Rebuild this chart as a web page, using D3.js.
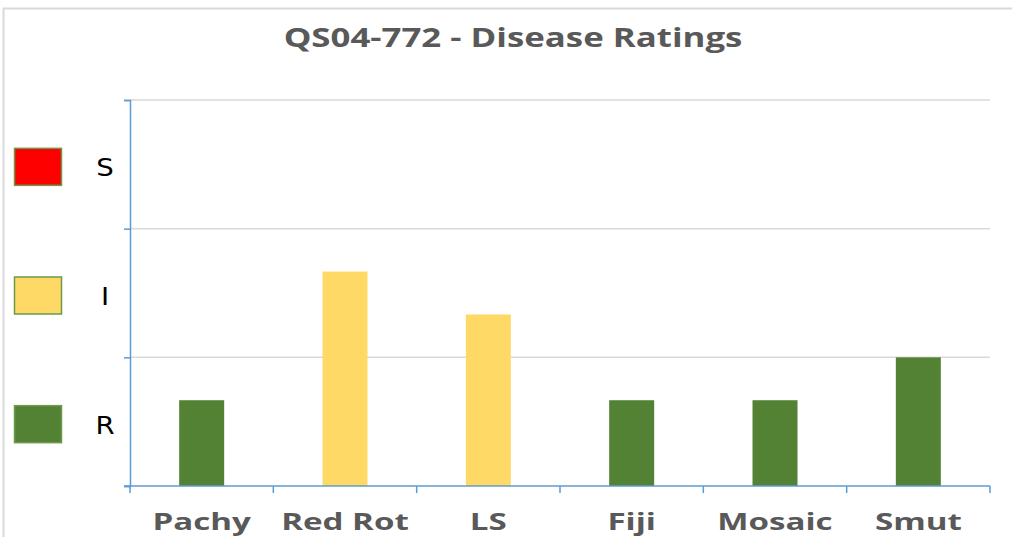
<!DOCTYPE html>
<html>
<head>
<meta charset="utf-8">
<script src="https://cdn.jsdelivr.net/npm/d3@7"></script>
<style>
  html, body { margin: 0; padding: 0; background: #fff; }
  svg { display: block; }
</style>
</head>
<body>
<div id="chart"></div>
<script>
// chart data
const categories = ['Pachy', 'Red Rot', 'LS', 'Fiji', 'Mosaic', 'Smut'];
const ratings = [2, 5, 4, 2, 2, 3];
const ratingClass = ['R', 'I', 'I', 'R', 'R', 'R'];
const yTicks = [0, 3, 6, 9];

// legend bands: label, colour, middle of its band on the y scale
const legendLabels = ['S', 'I', 'R'];
const legendColors = ['#FF0000', '#FFD966', '#548235'];
const legendMid = [7.5, 4.5, 1.5];

const W = 1012, H = 537;
const margin = { top: 100, right: 22, bottom: 51, left: 130 };
const width = W - margin.left - margin.right;
const height = H - margin.top - margin.bottom;

const colorOf = d3.scaleOrdinal().domain(legendLabels).range(legendColors);

const svg = d3.select('#chart').append('svg')
  .attr('width', W)
  .attr('height', H);

// outer frame
svg.append('rect')
  .attr('x', 3.5).attr('y', 8.5)
  .attr('width', W + 10).attr('height', H + 10)
  .attr('fill', 'none')
  .attr('stroke', '#D9D9D9')
  .attr('stroke-width', 2);

// the original text is stretched wide
svg.append('text')
  .attr('transform', 'translate(513,47) scale(1.34,1)')
  .attr('text-anchor', 'middle')
  .attr('font-family', 'Open Sans, sans-serif')
  .attr('font-weight', 'bold')
  .attr('font-size', 26)
  .attr('fill', '#595959')
  .text('QS04-772 - Disease Ratings');

const g = svg.append('g').attr('transform', `translate(${margin.left},${margin.top})`);

const x = d3.scaleBand().domain(categories).range([0, width]);
const y = d3.scaleLinear().domain([0, 9]).range([height, 0]);

// gridlines
g.append('g')
  .selectAll('line')
  .data(yTicks.slice(1))
  .join('line')
  .attr('x1', 0).attr('x2', width)
  .attr('y1', d => y(d)).attr('y2', d => y(d))
  .attr('stroke', '#D9D9D9')
  .attr('stroke-width', 1.5);

// y axis (no labels)
g.append('g')
  .call(d3.axisLeft(y).tickValues(yTicks).tickFormat('').tickSizeOuter(0).tickSize(6))
  .call(a => a.selectAll('path, line').attr('stroke', '#5B9BD5').attr('stroke-width', 1.5));

// bars
const barW = 45;
g.selectAll('.bar')
  .data(categories)
  .join('rect')
  .attr('class', 'bar')
  .attr('x', d => x(d) + x.bandwidth() / 2 - barW / 2)
  .attr('width', barW)
  .attr('y', (d, i) => y(ratings[i]))
  .attr('height', (d, i) => height - y(ratings[i]))
  .attr('fill', (d, i) => colorOf(ratingClass[i]));

// x axis with ticks between categories
const xAxis = g.append('g').attr('transform', `translate(0,${height})`);
xAxis.append('line')
  .attr('x1', -6).attr('x2', width)
  .attr('stroke', '#5B9BD5').attr('stroke-width', 1.5);
xAxis.selectAll('.tk')
  .data(categories.concat(['end']))
  .join('line')
  .attr('class', 'tk')
  .attr('x1', (d, i) => i * x.step()).attr('x2', (d, i) => i * x.step())
  .attr('y1', 0).attr('y2', 7)
  .attr('stroke', '#5B9BD5').attr('stroke-width', 1.5);
xAxis.selectAll('.lbl')
  .data(categories)
  .join('text')
  .attr('class', 'lbl')
  .attr('transform', d => `translate(${x(d) + x.bandwidth() / 2},44) scale(1.38,1)`)
  .attr('text-anchor', 'middle')
  .attr('font-family', 'Open Sans, sans-serif')
  .attr('font-weight', 'bold')
  .attr('font-size', 24)
  .attr('fill', '#595959')
  .text(d => d);

// legend on the left
const legend = svg.append('g').selectAll('g')
  .data(legendLabels)
  .join('g')
  .attr('transform', (d, i) => `translate(0,${margin.top + y(legendMid[i])})`);

legend.append('rect')
  .attr('x', 14.5).attr('y', -16)
  .attr('width', 47).attr('height', 37)
  .attr('fill', (d, i) => legendColors[i])
  .attr('stroke', '#6A9A4A')
  .attr('stroke-width', 1.5);

legend.append('text')
  .attr('transform', 'translate(105,12) scale(1.15,1)')
  .attr('text-anchor', 'middle')
  .attr('font-family', 'DejaVu Sans, sans-serif')
  .attr('font-size', 24)
  .attr('fill', '#000')
  .text(d => d);
</script>
</body>
</html>
